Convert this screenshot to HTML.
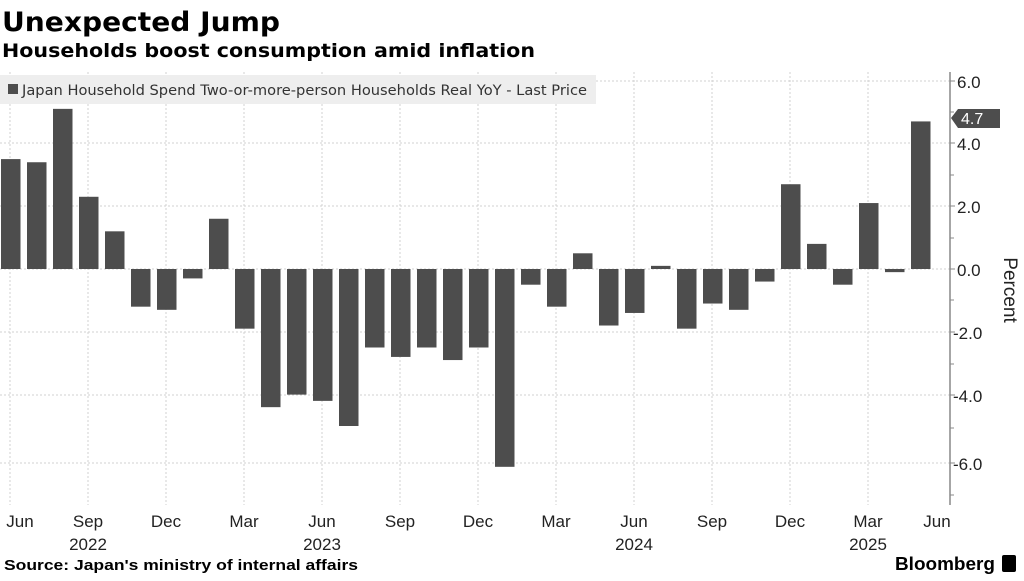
<!DOCTYPE html>
<html><head><meta charset="utf-8"><style>
body{margin:0;width:1024px;height:576px;background:#fff;overflow:hidden;font-family:"Liberation Sans",sans-serif}
</style></head><body>
<svg width="1024" height="576" xmlns="http://www.w3.org/2000/svg" font-family="Liberation Sans, sans-serif">
<text x="2" y="31" font-size="27" font-weight="bold" fill="#000" font-family="DejaVu Sans, sans-serif" textLength="278" lengthAdjust="spacingAndGlyphs">Unexpected Jump</text>
<text x="2" y="57" font-size="19" font-weight="bold" fill="#000" font-family="DejaVu Sans, sans-serif" textLength="533" lengthAdjust="spacingAndGlyphs">Households boost consumption amid inflation</text>
<g stroke="#d0d0d0" stroke-dasharray="2,2" stroke-width="1">
<line x1="0" x2="950" y1="81" y2="81"/><line x1="0" x2="950" y1="143" y2="143"/><line x1="0" x2="950" y1="206" y2="206"/><line x1="0" x2="950" y1="269" y2="269"/><line x1="0" x2="950" y1="332" y2="332"/><line x1="0" x2="950" y1="395" y2="395"/><line x1="0" x2="950" y1="463" y2="463"/>
<line x1="10" x2="10" y1="72" y2="505"/><line x1="88" x2="88" y1="72" y2="505"/><line x1="166" x2="166" y1="72" y2="505"/><line x1="244" x2="244" y1="72" y2="505"/><line x1="322" x2="322" y1="72" y2="505"/><line x1="400" x2="400" y1="72" y2="505"/><line x1="478" x2="478" y1="72" y2="505"/><line x1="556" x2="556" y1="72" y2="505"/><line x1="634" x2="634" y1="72" y2="505"/><line x1="712" x2="712" y1="72" y2="505"/><line x1="790" x2="790" y1="72" y2="505"/><line x1="868" x2="868" y1="72" y2="505"/>
</g>
<rect x="0" y="75" width="596" height="29" fill="#eeeeee"/>
<rect x="8" y="84" width="10" height="10" fill="#4d4d4d"/>
<text x="22" y="95" font-size="14" fill="#333" font-family="DejaVu Sans, sans-serif" textLength="565" lengthAdjust="spacingAndGlyphs">Japan Household Spend Two-or-more-person Households Real YoY - Last Price</text>
<g fill="#4d4d4d" id="bars"></g>
<line x1="950" x2="950" y1="72" y2="505" stroke="#888" stroke-width="1.5"/>
<g stroke="#888"><line x1="950" x2="955" y1="81" y2="81"/><line x1="950" x2="955" y1="143" y2="143"/><line x1="950" x2="955" y1="206" y2="206"/><line x1="950" x2="955" y1="269" y2="269"/><line x1="950" x2="955" y1="332" y2="332"/><line x1="950" x2="955" y1="395" y2="395"/><line x1="950" x2="955" y1="463" y2="463"/><line x1="950" x2="954" y1="112" y2="112"/><line x1="950" x2="954" y1="175" y2="175"/><line x1="950" x2="954" y1="238" y2="238"/><line x1="950" x2="954" y1="300" y2="300"/><line x1="950" x2="954" y1="364" y2="364"/><line x1="950" x2="954" y1="428" y2="428"/><line x1="950" x2="954" y1="495" y2="495"/></g>
<g font-size="17" fill="#222">
<text x="957" y="88">6.0</text><text x="957" y="150">4.0</text><text x="957" y="213">2.0</text><text x="957" y="276">0.0</text><text x="953" y="339">-2.0</text><text x="953" y="402">-4.0</text><text x="953" y="470">-6.0</text>
</g>
<polygon points="951,118 958,109 1000,109 1000,128 958,128" fill="#4d4d4d"/>
<text x="961" y="124" font-size="16" fill="#fff">4.7</text>
<text transform="translate(1004,290) rotate(90)" font-size="19" fill="#222" text-anchor="middle">Percent</text>
<g font-size="17" fill="#222" text-anchor="middle">
<text x="20" y="527">Jun</text><text x="88" y="527">Sep</text><text x="166" y="527">Dec</text><text x="244" y="527">Mar</text><text x="322" y="527">Jun</text><text x="400" y="527">Sep</text><text x="478" y="527">Dec</text><text x="556" y="527">Mar</text><text x="634" y="527">Jun</text><text x="712" y="527">Sep</text><text x="790" y="527">Dec</text><text x="868" y="527">Mar</text><text x="937" y="527">Jun</text>
<text x="88" y="550">2022</text><text x="322" y="550">2023</text><text x="634" y="550">2024</text><text x="868" y="550">2025</text>
</g>
<text x="4" y="570" font-size="15" font-weight="bold" fill="#000" textLength="354" lengthAdjust="spacingAndGlyphs">Source: Japan's ministry of internal affairs</text>
<text x="895" y="570" font-size="18" font-weight="bold" fill="#000" textLength="100" lengthAdjust="spacingAndGlyphs">Bloomberg</text>
<rect x="1002" y="555" width="14" height="17" rx="2" fill="#000"/>
</svg>
<script>
var v=[3.5,3.4,5.1,2.3,1.2,-1.2,-1.3,-0.3,1.6,-1.9,-4.4,-4.0,-4.2,-5.0,-2.5,-2.8,-2.5,-2.9,-2.5,-6.3,-0.5,-1.2,0.5,-1.8,-1.4,0.1,-1.9,-1.1,-1.3,-0.4,2.7,0.8,-0.5,2.1,-0.1,4.7];
var g=document.getElementById('bars'),s='';
v.forEach(function(d,i){var x=1+26*i,h=Math.abs(d)*31.4,y=d>0?269-h:269;if(h<1.5)h=1.5;
s+='<rect x="'+x+'" y="'+y+'" width="19.5" height="'+h+'"/>';});
g.innerHTML=s;
</script>
</body></html>
